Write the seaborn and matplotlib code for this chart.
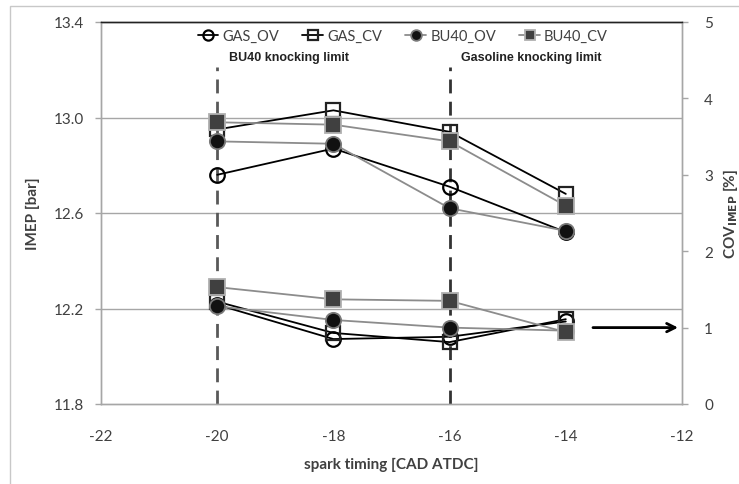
import numpy as np
import pandas as pd
import matplotlib as mpl
import matplotlib.pyplot as plt
import seaborn as sns
from matplotlib.patches import Rectangle

# spark timing [CAD ATDC]
spark = [-20, -18, -16, -14]

# IMEP [bar] (left axis)
imep_gas_ov = [12.76, 12.87, 12.71, 12.52]
imep_gas_cv = [12.95, 13.03, 12.94, 12.68]
imep_bu40_ov = [12.90, 12.89, 12.62, 12.525]
imep_bu40_cv = [12.98, 12.97, 12.90, 12.63]

# COV of IMEP [%] (right axis)
cov_gas_ov = [1.30, 0.85, 0.88, 1.08]
cov_gas_cv = [1.34, 0.93, 0.81, 1.11]
cov_bu40_ov = [1.28, 1.10, 1.00, 0.96]
cov_bu40_cv = [1.53, 1.37, 1.35, 0.94]

labels = ['GAS_OV', 'GAS_CV', 'BU40_OV', 'BU40_CV']

sns.set_style('white')
mpl.rcParams['font.family'] = ['Lato', 'DejaVu Sans']
mpl.rcParams['axes.unicode_minus'] = False
tick_col = '#404040'

styles = {
    'GAS_OV': dict(color='black', marker='o', markerfacecolor='none', markeredgecolor='black',
                   markeredgewidth=1.6, markersize=10.5, linewidth=1.3),
    'GAS_CV': dict(color='black', marker='s', markerfacecolor='none', markeredgecolor='#222222',
                   markeredgewidth=1.6, markersize=10.5, linewidth=1.3),
    'BU40_OV': dict(color='#8c8c8c', marker='o', markerfacecolor='#111111', markeredgecolor='#7a7a7a',
                    markeredgewidth=1.3, markersize=11, linewidth=1.3),
    'BU40_CV': dict(color='#8c8c8c', marker='s', markerfacecolor='#404040', markeredgecolor='#b0b0b0',
                    markeredgewidth=1.3, markersize=11, linewidth=1.3),
}

fig = plt.figure(figsize=(7.39, 4.85), dpi=100)
ax = fig.add_axes([101/739, 1-405/485, (682-101)/739, (405-23)/485])
ax2 = ax.twinx()

imep = dict(zip(labels, [imep_gas_ov, imep_gas_cv, imep_bu40_ov, imep_bu40_cv]))
cov = dict(zip(labels, [cov_gas_ov, cov_gas_cv, cov_bu40_ov, cov_bu40_cv]))

# knocking limit lines
ax.vlines(-20, 11.8, 13.21, colors='#595959', linestyles=(0, (5, 3)), linewidth=2, zorder=1)
ax.vlines(-16, 11.8, 13.21, colors='#333333', linestyles=(0, (5, 3)), linewidth=2, zorder=1)

for lab in labels:
    sns.lineplot(x=spark, y=imep[lab], ax=ax, label=lab, **styles[lab])
for lab in labels:
    sns.lineplot(x=spark, y=cov[lab], ax=ax2, legend=False, **styles[lab])

ax.set_xlim(-22, -12)
ax.set_ylim(11.8, 13.4)
ax2.set_ylim(0, 5)
ax.set_xticks(np.arange(-22, -11, 2))
ax.set_yticks([11.8, 12.2, 12.6, 13.0, 13.4])
ax.set_yticklabels(['11.8', '12.2', '12.6', '13.0', '13.4'])
ax2.set_yticks([0, 1, 2, 3, 4, 5])

ax.grid(False)
ax2.grid(False)
for yv in [12.2, 12.6, 13.0]:
    ax.axhline(yv, color='#a6a6a6', linewidth=1, zorder=0)

for a in (ax, ax2):
    for s in ['left', 'right', 'bottom']:
        a.spines[s].set_color('#a6a6a6')
        a.spines[s].set_linewidth(1)
    a.spines['top'].set_color('#222222')
    a.spines['top'].set_linewidth(1)
    a.tick_params(axis='both', which='major', direction='out', length=4, width=1,
                  color='#a6a6a6', labelsize=11, labelcolor=tick_col, pad=8)
ax.tick_params(axis='x', pad=14)
ax2.tick_params(axis='y', pad=12)

ax.set_xlabel('spark timing [CAD ATDC]', fontsize=11, fontweight='bold', color=tick_col, labelpad=10)
ax.set_ylabel('IMEP [bar]', fontsize=11, fontweight='bold', color=tick_col, labelpad=10)
ax2.set_ylabel(r'COV$_{\mathbf{IMEP}}$ [%]', fontsize=11, fontweight='bold', color=tick_col, labelpad=6)

ax.text(-19.8, 13.23, 'BU40 knocking limit', fontsize=9, fontweight='bold', color='#222222',
        family=['Liberation Sans', 'DejaVu Sans'], va='bottom')
ax.text(-15.8, 13.23, 'Gasoline knocking limit', fontsize=9, fontweight='bold', color='#222222',
        family=['Liberation Sans', 'DejaVu Sans'], va='bottom')

ax2.annotate('', xy=(-12.02, 1.0), xytext=(-13.58, 1.0),
             arrowprops=dict(arrowstyle='->, head_length=0.6, head_width=0.3', lw=2, color='black'))

ax.legend(loc='center', bbox_to_anchor=(0.545, 0.924), bbox_transform=fig.transFigure,
          ncol=4, frameon=False, fontsize=10.5, handlelength=1.4, handletextpad=0.3,
          columnspacing=1.6, labelcolor=tick_col, markerscale=0.7)

fig.patches.append(Rectangle((10/739, -0.1), 1.2, 1.1 - 7/485, transform=fig.transFigure,
                             fill=False, edgecolor='#c8c8c8', linewidth=1))

fig.savefig('out.png', dpi=100)
